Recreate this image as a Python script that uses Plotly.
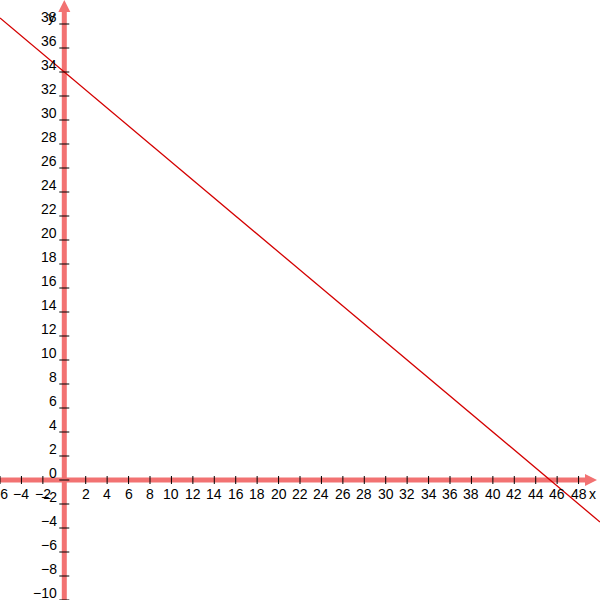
import plotly.graph_objects as go

# data
line_x = [-6, 50]
line_y = [38.5, -3.5]
x_ticks = [v for v in range(-6, 50, 2) if v != 0]
y_ticks = [v for v in range(-10, 40, 2)]
x_range = [-6, 50]
y_range = [-10, 40]

AXIS_COLOR = "#F27272"
FONT = dict(family="Liberation Sans, Arial, sans-serif", size=14, color="black")

def lab(v):
    return str(v).replace("-", "\u2212")

fig = go.Figure()
fig.add_trace(go.Scatter(x=line_x, y=line_y, mode="lines",
                         line=dict(color="#D40000", width=1.3),
                         hoverinfo="skip", showlegend=False))

shapes = []
# axes
shapes.append(dict(type="line", xref="x", yref="y", x0=x_range[0], x1=49.0, y0=0, y1=0,
                   line=dict(color=AXIS_COLOR, width=5), layer="below"))
shapes.append(dict(type="line", xref="x", yref="y", x0=0, x1=0, y0=y_range[0], y1=39.2,
                   line=dict(color=AXIS_COLOR, width=5), layer="below"))
# arrowheads
shapes.append(dict(type="path", xref="x", yref="y", xsizemode="pixel", ysizemode="pixel",
                   xanchor=0, yanchor=y_range[1],
                   path="M 0 0 L -6 -12 L 6 -12 Z",
                   fillcolor=AXIS_COLOR, line=dict(width=0), layer="below"))
shapes.append(dict(type="path", xref="x", yref="y", xsizemode="pixel", ysizemode="pixel",
                   xanchor=x_range[1], yanchor=0,
                   path="M -3 0 L -15 6 L -15 -6 Z",
                   fillcolor=AXIS_COLOR, line=dict(width=0), layer="below"))
# tick marks
for v in x_ticks:
    shapes.append(dict(type="line", xref="x", yref="y", ysizemode="pixel", yanchor=0,
                       x0=v, x1=v, y0=-4, y1=4, line=dict(color="black", width=1)))
for v in y_ticks:
    shapes.append(dict(type="line", xref="x", yref="y", xsizemode="pixel", xanchor=0,
                       y0=v, y1=v, x0=-5, x1=5, line=dict(color="black", width=1)))

annotations = []
for v in x_ticks:
    annotations.append(dict(x=v, y=0, xref="x", yref="y", text=lab(v), showarrow=False,
                            xanchor="center", yanchor="top", yshift=-4, font=FONT))
for v in y_ticks:
    annotations.append(dict(x=0, y=v, xref="x", yref="y", text=lab(v), showarrow=False,
                            xanchor="right", yanchor="middle", xshift=-5, yshift=7, font=FONT))
annotations.append(dict(x=0, y=38, xref="x", yref="y", text="y", showarrow=False,
                        xanchor="right", yanchor="middle", xshift=-7, yshift=7, font=FONT))
annotations.append(dict(x=x_range[1], y=0, xref="x", yref="y", text="x", showarrow=False,
                        xanchor="right", yanchor="top", xshift=-2, yshift=-4, font=FONT))

fig.update_layout(
    width=608, height=602,
    margin=dict(l=0, r=8, t=0, b=2),
    plot_bgcolor="white", paper_bgcolor="white",
    xaxis=dict(range=x_range, visible=False, fixedrange=True),
    yaxis=dict(range=y_range, visible=False, fixedrange=True),
    shapes=shapes, annotations=annotations,
    showlegend=False,
)

fig.write_html("out.html", config={"displayModeBar": False},
               post_script="document.body.style.margin='0px';document.body.style.overflow='hidden';")
